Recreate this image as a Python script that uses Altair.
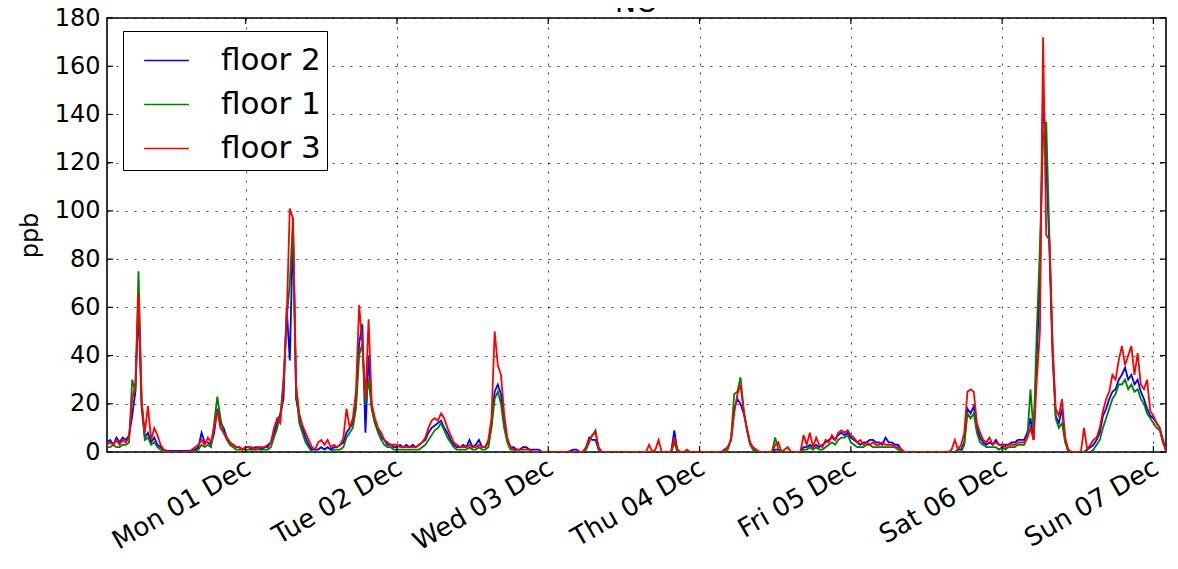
import altair as alt
import pandas as pd

# ---------------- data ----------------
series_names = ["floor 2", "floor 1", "floor 3"]
series_colors = ["#0000ff", "#008000", "#ff0000"]
start_time = "2014-11-30 02:00"
step = "30min"
y_ticks = [0, 20, 40, 60, 80, 100, 120, 140, 160, 180]
day_ticks = ["2014-12-01T00:00:00", "2014-12-02T00:00:00", "2014-12-03T00:00:00",
             "2014-12-04T00:00:00", "2014-12-05T00:00:00", "2014-12-06T00:00:00",
             "2014-12-07T00:00:00"]

floor2 = [
    4, 5, 3, 6, 4, 6, 5, 7, 15, 25, 60, 18, 6, 8, 4, 6, 3, 2, 1,
    0.5, 0.5, 0.5, 0.5, 0.5, 0.5, 0.5, 0.5, 0.5, 1, 2, 8, 4, 4, 3, 8, 18, 12, 10, 6, 4, 3, 2, 2, 1,
    2, 2, 1, 2, 2, 1, 2, 2, 4, 8, 12, 16, 22, 60, 38, 92, 22, 15, 10, 6, 3, 1, 1, 1,
    2, 1, 2, 1, 2, 2, 3, 4, 8, 10, 12, 20, 45, 53, 8, 40, 18, 12, 9, 6, 5, 3, 3, 2,
    2, 3, 2, 3, 2, 3, 2, 3, 4, 5, 8, 10, 11, 12, 13, 10, 8, 5, 3, 2, 2, 3, 2, 5,
    2, 3, 5, 2, 2, 4, 12, 25, 28, 24, 12, 5, 2, 2, 1, 1, 2, 2, 1, 1, 1, 1, 0, 0,
    0, 0, 0, 0, 0, 0, 0, 0.5, 1, 1, 0, 0, 2, 6, 5, 5, 1, 0, 0, 0, 0, 0, 0, 0,
    0, 0, 0, 0, 0, 0, 0, 0, 0, 0, 0, 0, 0, 0, 0, 0, 9, 0, 0, 0, 0, 0, 0, 0,
    0, 0, 0, 0, 0, 0, 0, 0, 1, 2, 5, 18, 22, 20, 16, 10, 4, 1, 0, 0, 0, 0, 0, 0,
    1, 1, 0, 0, 0, 0, 0, 0, 0, 2, 2, 3, 2, 3, 2, 3, 4, 5, 6, 5, 7, 8, 7, 8,
    6, 5, 4, 3, 4, 4, 5, 5, 4, 4, 3, 6, 4, 4, 3, 3, 1, 0, 0, 0, 0, 0, 0, 0,
    0, 0, 0, 0, 0, 0, 0, 0, 0, 0, 1, 1, 4, 18, 16, 19, 10, 6, 4, 3, 4, 3, 5, 3,
    3, 3, 3, 4, 4, 5, 5, 5, 8, 14, 5, 40, 70, 150, 120, 85, 40, 15, 12, 18, 5, 0, 0, 0,
    0, 0, 0, 1, 2, 3, 5, 8, 15, 18, 22, 25, 26, 30, 32, 35, 30, 32, 28, 30, 25, 22, 18, 15,
    14, 12, 10, 5, 0.5,
]

floor1 = [
    2, 2, 3, 2, 2, 3, 3, 4, 30, 25, 75, 22, 5, 6, 3, 4, 2, 1, 0,
    0, 0, 0, 0, 0, 0, 0, 0, 0, 0.5, 1, 3, 2, 3, 2, 12, 23, 14, 8, 5, 3, 2, 1, 1, 1,
    1, 1, 1, 1, 1, 1, 1, 1, 2, 6, 10, 15, 30, 55, 70, 97, 25, 12, 8, 4, 2, 0, 0, 0,
    0, 0, 0, 0, 1, 1, 1, 2, 6, 8, 10, 18, 40, 45, 20, 30, 18, 12, 8, 5, 3, 2, 2, 1,
    1, 1, 1, 1, 1, 1, 1, 1, 2, 3, 5, 7, 9, 10, 12, 9, 6, 4, 2, 1, 1, 1, 1, 2,
    1, 1, 2, 1, 1, 2, 10, 22, 25, 20, 10, 4, 1, 1, 0, 0, 0, 0, 0, 0, 0, 0, 0, 0,
    0, 0, 0, 0, 0, 0, 0, 0, 0, 0, 0, 0, 1, 4, 7, 9, 1, 0, 0, 0, 0, 0, 0, 0,
    0, 0, 0, 0, 0, 0, 0, 0, 0, 0, 0, 0, 0, 0, 0, 0, 4, 0, 0, 0, 0, 0, 0, 0,
    0, 0, 0, 0, 0, 0, 0, 0, 0, 1, 6, 24, 25, 31, 18, 9, 3, 1, 0, 0, 0, 0, 0, 0,
    6, 1, 0, 0, 0, 0, 0, 0, 0, 1, 1, 2, 1, 2, 1, 1, 2, 3, 4, 3, 5, 6, 6, 7,
    4, 3, 2, 2, 2, 3, 3, 2, 2, 2, 2, 2, 2, 2, 2, 1, 0, 0, 0, 0, 0, 0, 0, 0,
    0, 0, 0, 0, 0, 0, 0, 0, 0, 0, 0, 0, 3, 16, 14, 16, 8, 4, 3, 2, 2, 2, 2, 1,
    2, 1, 2, 2, 2, 3, 3, 3, 6, 26, 8, 50, 85, 130, 137, 90, 45, 14, 10, 12, 4, 0, 0, 0,
    0, 0, 0, 0, 0, 1, 3, 5, 10, 14, 18, 22, 24, 28, 28, 30, 26, 28, 25, 26, 22, 20, 16, 14,
    12, 10, 9, 4, 0.5,
]

floor3 = [
    3, 4, 3, 5, 3, 5, 4, 6, 22, 28, 66, 20, 8, 19, 5, 10, 7, 3, 1,
    0, 0, 0, 0, 0, 0, 0, 0, 1, 2, 3, 5, 3, 6, 4, 10, 17, 10, 8, 6, 4, 3, 2, 2, 1,
    2, 2, 2, 1, 2, 2, 2, 3, 4, 10, 14, 12, 28, 55, 101, 97, 28, 16, 11, 8, 5, 2, 1, 4,
    5, 3, 5, 2, 3, 2, 3, 6, 18, 10, 14, 25, 61, 45, 22, 55, 20, 14, 10, 8, 5, 4, 3, 3,
    3, 2, 2, 2, 2, 2, 2, 3, 4, 6, 10, 13, 14, 13, 16, 14, 10, 7, 4, 3, 2, 2, 2, 3,
    2, 2, 3, 2, 2, 5, 14, 50, 36, 32, 16, 6, 2, 1, 1, 1, 1, 1, 1, 0, 0, 0, 0, 0,
    0, 0, 0, 0, 0, 0, 0, 0, 0, 0, 0, 0, 2, 5, 7, 8, 2, 0, 0, 0, 0, 0, 0, 0,
    0, 0, 0, 0, 0, 0, 0, 0, 3, 0, 1, 5, 0, 0, 0, 0, 6, 1, 0, 0, 1, 0, 0, 0,
    0, 0, 0, 0, 0, 0, 0, 0, 1, 2, 5, 16, 24, 28, 17, 10, 4, 2, 1, 0, 0, 0, 0, 0,
    3, 4, 0, 1, 2, 0, 0, 0, 0, 7, 3, 8, 2, 6, 3, 2, 5, 4, 7, 5, 8, 9, 8, 9,
    7, 6, 4, 5, 3, 4, 3, 4, 3, 3, 4, 3, 3, 3, 2, 2, 1, 0, 0, 0, 0, 0, 0, 0,
    0, 0, 0, 0, 0, 0, 0, 0, 1, 5, 1, 3, 8, 25, 26, 25, 12, 8, 5, 4, 6, 3, 4, 3,
    3, 2, 3, 3, 3, 4, 4, 4, 6, 10, 5, 30, 50, 172, 90, 88, 44, 18, 15, 22, 6, 1, 0, 0,
    0, 0, 10, 1, 3, 5, 6, 10, 17, 22, 25, 32, 30, 38, 44, 36, 40, 44, 32, 41, 28, 26, 30, 17,
    15, 12, 10, 5, 0.5,
]

# ---------------- table ----------------
times = pd.date_range(start_time, periods=len(floor2), freq=step)
rows = []
for name, vals in zip(series_names, [floor2, floor1, floor3]):
    for t, v in zip(times, vals):
        rows.append({"time": t.strftime("%Y-%m-%dT%H:%M:%S"), "series": name, "ppb": v})
df = pd.DataFrame(rows)

W, H = 1059, 434
FONT = "DejaVu Sans"

xscale = alt.Scale(domain=[alt.DateTime(year=2014, month=11, date=30, hours=2),
                           alt.DateTime(year=2014, month=12, date=7, hours=2)])
yscale = alt.Scale(domain=[0, 180], nice=False)

xaxis = alt.Axis(values=[alt.DateTime(year=2014, month=12, date=d) for d in range(1, 8)],
                 format="%a %d %b", labelAngle=330, labelAlign="right",
                 labelBaseline="top", labelPadding=2, labelOffset=-4,
                 labelOverlap=False, labelFontSize=26, title=None)
yaxis = alt.Axis(values=y_ticks, labelPadding=7, labelFontSize=24,
                 titleFontSize=24, titlePadding=12, title="ppb")

lines = alt.Chart(df).mark_line(strokeWidth=1.8, clip=True).encode(
    x=alt.X("time:T", scale=xscale, axis=xaxis),
    y=alt.Y("ppb:Q", scale=yscale, axis=yaxis),
    color=alt.Color("series:N",
                    scale=alt.Scale(domain=series_names, range=series_colors),
                    legend=alt.Legend(title=None, orient="none", legendX=16, legendY=13,
                                      padding=6,
                                      strokeColor="black", fillColor="white",
                                      symbolType="stroke", symbolSize=2000,
                                      symbolStrokeWidth=1.6, symbolOffset=14,
                                      labelFontSize=31, labelFont=FONT, labelColor="black",
                                      labelOffset=31, rowPadding=5, cornerRadius=0)),
    detail="series:N",
)

ytick_df = pd.DataFrame({"v": y_ticks})
xtick_df = pd.DataFrame({"d": day_ticks})

tick_style = dict(color="black", strokeWidth=1.2)
left_ticks = alt.Chart(ytick_df).mark_rule(**tick_style).encode(
    y=alt.Y("v:Q", scale=yscale, axis=yaxis), x=alt.value(0), x2=alt.value(6))
right_ticks = alt.Chart(ytick_df).mark_rule(**tick_style).encode(
    y=alt.Y("v:Q", scale=yscale, axis=yaxis), x=alt.value(W - 6), x2=alt.value(W))
bottom_ticks = alt.Chart(xtick_df).mark_rule(**tick_style).encode(
    x=alt.X("d:T", scale=xscale, axis=xaxis), y=alt.value(H - 6), y2=alt.value(H))
top_ticks = alt.Chart(xtick_df).mark_rule(**tick_style).encode(
    x=alt.X("d:T", scale=xscale, axis=xaxis), y=alt.value(0), y2=alt.value(6))

chart = alt.layer(lines, left_ticks, right_ticks, bottom_ticks, top_ticks).properties(
    width=W, height=H,
    autosize=alt.AutoSizeParams(type="none"),
    padding={"left": 99, "top": 10, "right": 4, "bottom": 105},
    title=alt.TitleParams("NO", fontSize=28, font=FONT, fontWeight="normal",
                          color="black", offset=0, dy=12),
).configure_view(
    stroke="black", strokeWidth=1.6
).configure_axis(
    labelFont=FONT, titleFont=FONT, labelColor="black", titleColor="black",
    titleFontWeight="normal", ticks=False, domain=False,
    grid=True, gridColor="#000000", gridOpacity=0.75, gridWidth=1, gridDash=[2, 7],
)

chart.save("out.html", embed_options={"renderer": "svg", "actions": False})
